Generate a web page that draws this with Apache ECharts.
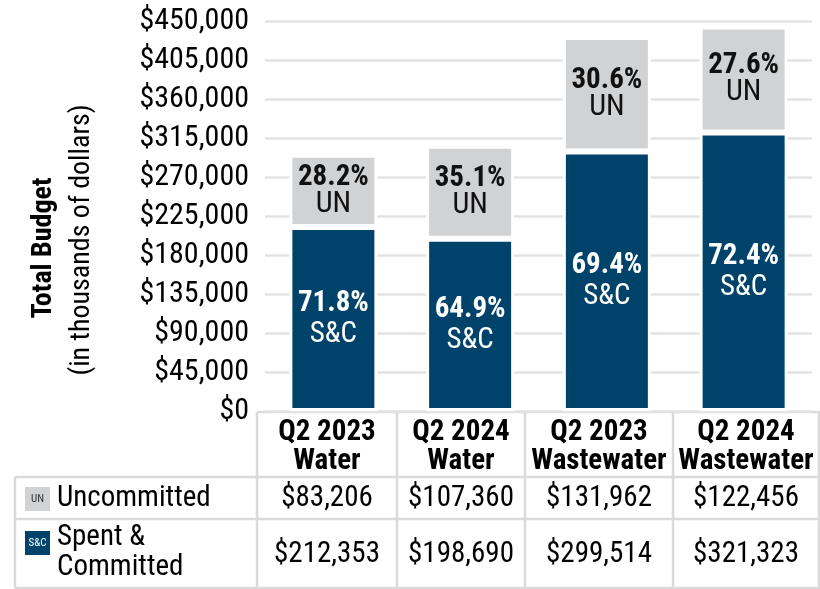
<!DOCTYPE html>
<html>
<head>
<meta charset="utf-8">
<script src="https://cdn.jsdelivr.net/npm/echarts@6/dist/echarts.min.js"></script>
<style>
html,body{margin:0;padding:0;background:#fff;}
#chart{width:820px;height:589px;}
</style>
</head>
<body>
<div id="chart"></div>
<script>
// ---- data ----
const categoryLine1 = ['Q2 2023', 'Q2 2024', 'Q2 2023', 'Q2 2024'];
const categoryLine2 = ['Water', 'Water', 'Wastewater', 'Wastewater'];
const uncommitted = [83206, 107360, 131962, 122456];
const spentCommitted = [212353, 198690, 299514, 321323];
const seriesNames = ['Uncommitted', 'Spent & Committed'];
const shortNames = ['UN', 'S&C'];
const yMax = 450000;
const yInterval = 45000;

// ---- styling ----
const FONT = '"Liberation Sans Narrow", "Roboto Condensed", "DejaVu Sans Condensed", "Liberation Sans", sans-serif';
const NAVY = '#00436a';
const GRAY = '#d1d2d4';
const LINE = '#dadada';

const categories = categoryLine1.map((c, i) => c + '\n' + categoryLine2[i]);
const money = v => '$' + v.toLocaleString('en-US');
const pct = (a, b) => (a / (a + b) * 100).toFixed(1) + '%';

const chart = echarts.init(document.getElementById('chart'), null, {renderer: 'canvas'});

// table geometry
const colEdges = [257, 397, 525, 673, 819];
const legendLeft = 15;
const headerTop = 412, row1Top = 477, row2Top = 519, tableBottom = 588;

const graphics = [];
// axis title
graphics.push({type: 'text', x: 44, y: 248, rotation: Math.PI / 2,
  style: {text: 'Total Budget', font: 'bold 28px ' + FONT, fill: '#000', align: 'center', verticalAlign: 'middle'}});
graphics.push({type: 'text', x: 82, y: 240, rotation: Math.PI / 2,
  style: {text: '(in thousands of dollars)', font: '28px ' + FONT, fill: '#000', align: 'center', verticalAlign: 'middle'}});

// table lines
const ls = {stroke: LINE, lineWidth: 2.5};
graphics.push({type: 'line', shape: {x1: colEdges[0], y1: headerTop, x2: colEdges[4] + 1, y2: headerTop}, style: ls});
[row1Top, row2Top, tableBottom].forEach(y => {
  graphics.push({type: 'line', shape: {x1: legendLeft, y1: y, x2: colEdges[4] + 1, y2: y}, style: ls});
});
colEdges.forEach(x => {
  graphics.push({type: 'line', shape: {x1: x, y1: headerTop, x2: x, y2: tableBottom}, style: ls});
});
graphics.push({type: 'line', shape: {x1: legendLeft, y1: row1Top, x2: legendLeft, y2: tableBottom}, style: ls});

// header & values
for (let i = 0; i < 4; i++) {
  const cx = (colEdges[i] + colEdges[i + 1]) / 2;
  graphics.push({type: 'text', x: cx, y: 433, style: {text: categoryLine1[i], font: 'bold 29px ' + FONT, fill: '#000', align: 'center', verticalAlign: 'middle'}});
  graphics.push({type: 'text', x: cx, y: 462, style: {text: categoryLine2[i], font: 'bold 29px ' + FONT, fill: '#000', align: 'center', verticalAlign: 'middle'}});
  graphics.push({type: 'text', x: cx, y: 499, style: {text: money(uncommitted[i]), font: '29px ' + FONT, fill: '#000', align: 'center', verticalAlign: 'middle'}});
  graphics.push({type: 'text', x: cx, y: 555, style: {text: money(spentCommitted[i]), font: '29px ' + FONT, fill: '#000', align: 'center', verticalAlign: 'middle'}});
}

// legend cells
graphics.push({type: 'rect', shape: {x: 25, y: 487, width: 25, height: 24}, style: {fill: GRAY}});
graphics.push({type: 'text', x: 37.5, y: 499.5, style: {text: shortNames[0], font: '11px ' + FONT, fill: '#333', align: 'center', verticalAlign: 'middle'}});
graphics.push({type: 'text', x: 57, y: 499, style: {text: seriesNames[0], font: '29px ' + FONT, fill: '#000', align: 'left', verticalAlign: 'middle'}});
graphics.push({type: 'rect', shape: {x: 25, y: 531, width: 25, height: 24}, style: {fill: NAVY}});
graphics.push({type: 'text', x: 37.5, y: 543.5, style: {text: shortNames[1], font: '11px ' + FONT, fill: '#fff', align: 'center', verticalAlign: 'middle'}});
graphics.push({type: 'text', x: 57, y: 538, style: {text: 'Spent &', font: '29px ' + FONT, fill: '#000', align: 'left', verticalAlign: 'middle'}});
graphics.push({type: 'text', x: 57, y: 568, style: {text: 'Committed', font: '29px ' + FONT, fill: '#000', align: 'left', verticalAlign: 'middle'}});

const option = {
  animation: false,
  backgroundColor: '#fff',
  grid: {left: 265, right: 8, top: 21, bottom: 589 - 411, containLabel: false},
  xAxis: {
    type: 'category', data: categories,
    axisLine: {show: false}, axisTick: {show: false}, axisLabel: {show: false}
  },
  yAxis: {
    type: 'value', min: 0, max: yMax, interval: yInterval,
    axisLine: {show: false}, axisTick: {show: false},
    splitLine: {lineStyle: {color: '#e3e3e3', width: 2.5}},
    axisLabel: {formatter: v => money(v), fontFamily: FONT, fontSize: 30, color: '#000', margin: 16}
  },
  series: [
    {
      name: seriesNames[1], type: 'bar', stack: 'total', data: spentCommitted, barWidth: 88,
      itemStyle: {color: NAVY, borderColor: '#fff', borderWidth: 3},
      label: {
        show: true, position: 'inside',
        formatter: p => '{p|' + pct(spentCommitted[p.dataIndex], uncommitted[p.dataIndex]) + '}\n{n|' + shortNames[1] + '}',
        rich: {
          p: {fontFamily: FONT, fontSize: 29, fontWeight: 'bold', color: '#fff', lineHeight: 31, align: 'center'},
          n: {fontFamily: FONT, fontSize: 29, color: '#fff', lineHeight: 31, align: 'center'}
        }
      }
    },
    {
      name: seriesNames[0], type: 'bar', stack: 'total', data: uncommitted, barWidth: 88,
      itemStyle: {color: GRAY, borderColor: '#fff', borderWidth: 3},
      label: {
        show: true, position: 'inside',
        formatter: p => '{p|' + pct(uncommitted[p.dataIndex], spentCommitted[p.dataIndex]) + '}\n{n|' + shortNames[0] + '}',
        rich: {
          p: {fontFamily: FONT, fontSize: 29, fontWeight: 'bold', color: '#111', lineHeight: 27, align: 'center'},
          n: {fontFamily: FONT, fontSize: 30, color: '#111', lineHeight: 27, align: 'center'}
        }
      }
    }
  ],
  graphic: graphics
};
chart.setOption(option);
</script>
</body>
</html>
